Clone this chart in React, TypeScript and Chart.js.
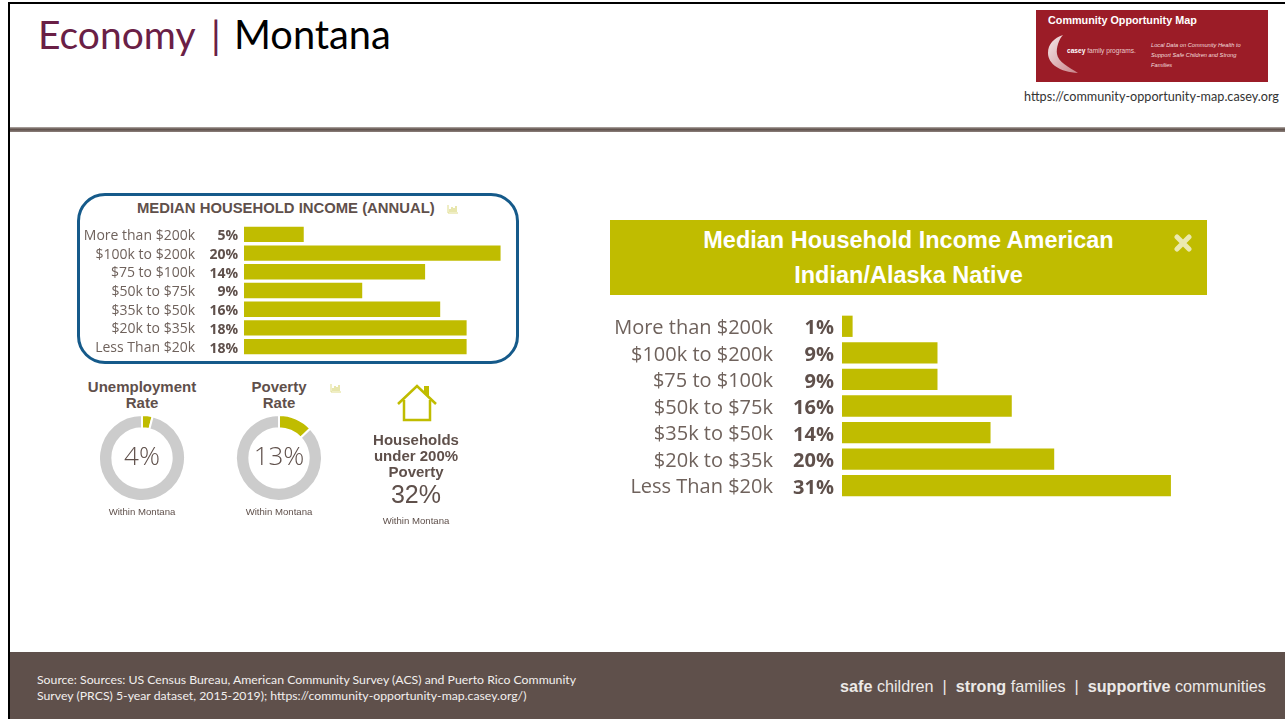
import React, { useEffect, useRef } from "react";
import { Chart, registerables } from "chart.js";

Chart.register(...registerables);

const OLIVE = "#c0bc00";
const GREY = "#cccccc";
const BROWN = "#5f504b";
const LABEL = "#6f625c";

const incomeCategories = ["More than $200k", "$100k to $200k", "$75 to $100k", "$50k to $75k", "$35k to $50k", "$20k to $35k", "Less Than $20k"];
const overallValues = [4.75, 20.4, 14.4, 9.4, 15.6, 17.7, 17.7];
const overallLabels = ["5%", "20%", "14%", "9%", "16%", "18%", "18%"];
const nativeValues = [1, 9, 9, 16, 14, 20, 31];
const nativeLabels = ["1%", "9%", "9%", "16%", "14%", "20%", "31%"];
const unemploymentRate = [4, 96];
const povertyRate = [13, 87];

type BarProps = {
  left: number; top: number; width: number; height: number;
  axisWidth: number; labelPad: number; max: number; values: number[]; labels: string[];
  fontSize: number; pctFont: number; pctGap: number; barPct: number; textShift: number;
};

function BarPanel(p: BarProps) {
  const ref = useRef<HTMLCanvasElement>(null);
  useEffect(() => {
    const pctPlugin = {
      id: "pct",
      afterDatasetsDraw(chart: any) {
        const { ctx, scales } = chart;
        ctx.save();
        ctx.font = `700 ${p.pctFont}px "Open Sans"`;
        ctx.fillStyle = BROWN;
        ctx.textAlign = "right";
        ctx.textBaseline = "middle";
        p.labels.forEach((t, i) => {
          ctx.fillText(t, chart.chartArea.left - p.pctGap, scales.y.getPixelForTick(i) + 0.5 + p.textShift);
        });
        ctx.restore();
      },
    };
    const chart = new Chart(ref.current!, {
      type: "bar",
      data: {
        labels: incomeCategories,
        datasets: [{ data: p.values, backgroundColor: OLIVE, borderWidth: 0, categoryPercentage: 1, barPercentage: p.barPct }],
      },
      options: {
        indexAxis: "y",
        animation: false,
        responsive: false,
        maintainAspectRatio: false,
        layout: { padding: 0 },
        plugins: { legend: { display: false }, tooltip: { enabled: false }, title: { display: false } },
        scales: {
          x: { display: false, min: 0, max: p.max },
          y: {
            afterFit: (s: any) => { s.width = p.axisWidth; s.paddingTop = 0; s.paddingBottom = 0; },
            grid: { display: false, drawTicks: false },
            border: { display: false },
            ticks: { padding: p.labelPad, labelOffset: p.textShift, color: LABEL, autoSkip: false, font: { family: '"Open Sans"', size: p.fontSize, weight: 400 } },
          },
        },
      },
      plugins: [pctPlugin],
    } as any);
    return () => chart.destroy();
  }, []);
  return <canvas ref={ref} width={p.width} height={p.height} style={{ position: "absolute", left: p.left, top: p.top, width: p.width, height: p.height }} />;
}

function Donut({ left, top, values }: { left: number; top: number; values: number[] }) {
  const ref = useRef<HTMLCanvasElement>(null);
  useEffect(() => {
    const chart = new Chart(ref.current!, {
      type: "doughnut",
      data: {
        labels: ["Rate", "Rest"],
        datasets: [{ data: values, backgroundColor: [OLIVE, GREY], borderColor: "#ffffff", borderWidth: 2 }],
      },
      options: {
        animation: false,
        responsive: false,
        cutout: "69%",
        layout: { padding: 0 },
        plugins: { legend: { display: false }, tooltip: { enabled: false } },
      },
    } as any);
    return () => chart.destroy();
  }, []);
  return <canvas ref={ref} width={88} height={88} style={{ position: "absolute", left, top, width: 88, height: 88 }} />;
}

function T({ x, y, w, align = "left", size, color, font, weight = 400, lh, children, extra }: any) {
  return (
    <div style={{ position: "absolute", left: x, top: y, width: w, textAlign: align, fontSize: size, color, fontFamily: font, fontWeight: weight, lineHeight: lh ? lh + "px" : "normal", whiteSpace: "pre", ...extra }}>
      {children}
    </div>
  );
}

const ARIAL = '"Liberation Sans"';
const CAL = "Lato";
const OS = '"Open Sans"';

function ChartIcon({ x, y }: { x: number; y: number }) {
  return (
    <svg style={{ position: "absolute", left: x, top: y }} width="12" height="10" viewBox="0 0 12 10">
      <path d="M1 1V9H11" stroke="#dfdc8a" fill="none" strokeWidth="1" />
      <path d="M3 8V5M5 8V3M7 8V4M9 8V2" stroke="#dfdc8a" fill="none" strokeWidth="1.4" />
    </svg>
  );
}

export default function App() {
  useEffect(() => {
    document.body.style.margin = "0";
    document.body.style.background = "#fff";
  }, []);
  return (
    <div style={{ position: "absolute", left: 0, top: 0, width: 1285, height: 719, overflow: "hidden", background: "#fff" }}>
      {/* frame */}
      <div style={{ position: "absolute", left: 8, top: 2, width: 1277, height: 2, background: "#000" }} />
      <div style={{ position: "absolute", left: 8, top: 2, width: 2, height: 717, background: "#000" }} />
      <div style={{ position: "absolute", left: 10, top: 127, width: 1275, height: 5, background: "linear-gradient(#b5aeaa,#5f504b 45%,#8b807b)" }} />

      {/* title */}
      <T x={38} y={9} size={39} font={CAL} color="#6a2046" lh={50}>Economy</T>
      <T x={211} y={9} size={39} font={CAL} color="#6a2046" lh={50}>|</T>
      <T x={234} y={9} size={39.8} font={CAL} color="#000" lh={50}>Montana</T>

      {/* logo */}
      <div style={{ position: "absolute", left: 1036, top: 10, width: 232, height: 72, background: "#9b1c27" }} />
      <T x={1048} y={13} size={10.8} font={ARIAL} weight={700} color="#fff" lh={14}>Community Opportunity Map</T>
      <svg style={{ position: "absolute", left: 1046, top: 33 }} width="34" height="42" viewBox="0 0 34 42">
        <defs>
          <linearGradient id="sw" x1="0" y1="0" x2="1" y2="1">
            <stop offset="0" stopColor="#fff" stopOpacity="0.9" />
            <stop offset="1" stopColor="#fff" stopOpacity="0.45" />
          </linearGradient>
        </defs>
        <path d="M17 2C8 5 2 11 2 20C2 31 14 39 32 40C23 34 12 29 11 21C10 15 13 6 17 2Z" fill="url(#sw)" />
      </svg>
      <T x={1067} y={46} size={6.6} font={ARIAL} color="#e9c9cb" lh={10}><b style={{ color: "#fff" }}>casey</b> family programs.</T>
      <T x={1151} y={40} size={5.7} font={ARIAL} color="#f3dede" lh={10} extra={{ fontStyle: "italic" }}>{"Local Data on Community Health to\nSupport Safe Children and Strong\nFamilies"}</T>
      <T x={1024} y={89} size={12.65} font={CAL} color="#333" lh={16}>https://community-opportunity-map.casey.org</T>

      {/* left panel */}
      <div style={{ position: "absolute", left: 77, top: 193, width: 442, height: 171, boxSizing: "border-box", border: "3px solid #155a8a", borderRadius: 28 }} />
      <T x={137} y={200} size={14.85} font={ARIAL} weight={700} color={BROWN} lh={16}>MEDIAN HOUSEHOLD INCOME (ANNUAL)</T>
      <ChartIcon x={447} y={204} />
      <BarPanel left={80} top={225} width={430} height={131} axisWidth={164} labelPad={49} max={21.15} values={overallValues} labels={overallLabels} fontSize={14} pctFont={14} pctGap={6} barPct={0.82} textShift={1.5} />

      {/* KPIs */}
      <T x={72} y={379} w={140} align="center" size={15} font={ARIAL} weight={700} color={BROWN} lh={16}>{"Unemployment\nRate"}</T>
      <Donut left={98} top={414} values={unemploymentRate} />
      <T x={98} y={437} w={88} align="center" size={26} font={OS} weight={300} color={BROWN} lh={36}>4%</T>
      <T x={72} y={506} w={140} align="center" size={9.6} font={ARIAL} color={BROWN} lh={12}>Within Montana</T>

      <T x={209} y={379} w={140} align="center" size={15} font={ARIAL} weight={700} color={BROWN} lh={16}>{"Poverty\nRate"}</T>
      <ChartIcon x={330} y={383} />
      <Donut left={235} top={414} values={povertyRate} />
      <T x={235} y={437} w={88} align="center" size={26} font={OS} weight={300} color={BROWN} lh={36}>13%</T>
      <T x={209} y={506} w={140} align="center" size={9.6} font={ARIAL} color={BROWN} lh={12}>Within Montana</T>

      <svg style={{ position: "absolute", left: 396, top: 383 }} width="42" height="40" viewBox="0 0 42 40">
        <path d="M2 21L21 3L40 21" stroke={OLIVE} strokeWidth="2.5" fill="none" />
        <path d="M8 17V37H34V17" stroke={OLIVE} strokeWidth="2.5" fill="none" />
        <path d="M28 9V3H33V14" fill={OLIVE} />
      </svg>
      <T x={346} y={432} w={140} align="center" size={15} font={ARIAL} weight={700} color={BROWN} lh={16}>{"Households\nunder 200%\nPoverty"}</T>
      <T x={346} y={479} w={140} align="center" size={25} font={ARIAL} color={BROWN} lh={30}>32%</T>
      <T x={346} y={515} w={140} align="center" size={9.6} font={ARIAL} color={BROWN} lh={12}>Within Montana</T>

      {/* right panel */}
      <div style={{ position: "absolute", left: 610, top: 220, width: 597, height: 75, background: OLIVE }} />
      <T x={610} y={223} w={597} align="center" size={23.5} font={ARIAL} weight={700} color="#fff" lh={35}>{"Median Household Income American\nIndian/Alaska Native"}</T>
      <svg style={{ position: "absolute", left: 1174, top: 234 }} width="18" height="18" viewBox="0 0 18 18">
        <path d="M3 3L15 15M15 3L3 15" stroke="#ebe9b0" strokeWidth="5" strokeLinecap="round" />
      </svg>
      <BarPanel left={610} top={313} width={597} height={186} axisWidth={232} labelPad={69} max={34.4} values={nativeValues} labels={nativeLabels} fontSize={20} pctFont={20} pctGap={8} barPct={0.8} textShift={2} />

      {/* footer */}
      <div style={{ position: "absolute", left: 10, top: 652, width: 1275, height: 67, background: BROWN }} />
      <T x={37} y={672} size={12.27} font={CAL} color="#f2efee" lh={16}>{"Source: Sources: US Census Bureau, American Community Survey (ACS) and Puerto Rico Community\nSurvey (PRCS) 5-year dataset, 2015-2019); https://community-opportunity-map.casey.org/)"}</T>
      <T x={840} y={676} size={16.2} font={ARIAL} color="#ece9e7" lh={20}>
        <b>safe</b> children  |  <b>strong</b> families  |  <b>supportive</b> communities
      </T>
    </div>
  );
}
